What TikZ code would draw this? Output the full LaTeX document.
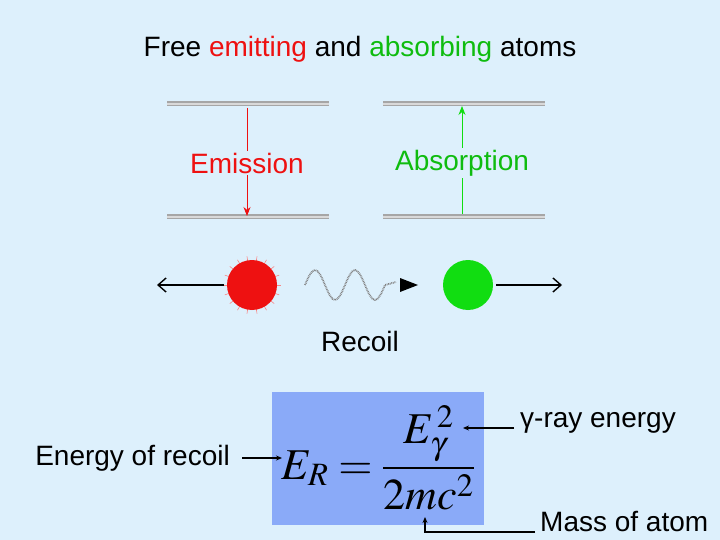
\documentclass[tikz,border=0pt]{standalone}
\usepackage{mathptmx}
\usepackage{fontspec}
\setmainfont{Liberation Sans}
\usetikzlibrary{arrows.meta}
\definecolor{bg}{HTML}{DDF0FC}
\definecolor{boxc}{HTML}{8AAAF8}
\definecolor{myred}{HTML}{EE1111}
\definecolor{mygreen}{HTML}{11DD11}
\tikzset{x=1pt,y=-1pt,
 lbl/.style={font=\fontsize{28}{32}\selectfont,inner sep=0},
 lvl/.style={line width=5pt,gray!70,postaction={draw,line width=1.5pt,gray!30}},
 blk/.style={line width=1.4pt,-{Straight Barb[length=8pt,width=14pt]}},
 pt/.style={line width=1.3pt,-{Stealth[length=6pt,width=5pt]}}}
\begin{document}
\begin{tikzpicture}
\fill[bg] (0,0) rectangle (720,540);
\useasboundingbox (0,0) rectangle (720,540);
\node[lbl] (title) at (360,49) {Free \textcolor{myred}{emitting} and \textcolor{mygreen!85!black}{absorbing} atoms};
\draw[lvl] (167,104) -- (329,104);
\draw[lvl] (167,217) -- (329,217);
\draw[lvl] (383,104) -- (545,104);
\draw[lvl] (383,217) -- (545,217);
\coordinate (et) at (247,108); \coordinate (eb) at (247,216);
\coordinate (at) at (462,106); \coordinate (ab) at (462,214);
\draw[myred,line width=0.8pt,-{Stealth[length=9pt,width=7pt]}] (et) -- (eb);
\draw[mygreen,line width=0.8pt,-{Stealth[length=9pt,width=7pt]}] (ab) -- (at);
\node[lbl,fill=bg,text=myred,inner sep=2pt] (em) at (247,163) {Emission};
\node[lbl,fill=bg,text=mygreen!85!black,inner sep=2pt] (ab2) at (462,163) {Absorption};
% atoms
\foreach \a in {0,20,...,340} \draw[myred!50,line width=0.6pt] (252,285) ++(\a:24) -- ++(\a:5);
\node[circle,fill=myred,minimum size=50pt,inner sep=0] (ra) at (252,285) {};
\node[circle,fill=mygreen,minimum size=50pt,inner sep=0] (ga) at (468,285) {};
\coordinate (lt) at (157,285); \coordinate (rt) at (562,285);
\draw[blk] (ra.west) ++(-3,0) -- (lt);
\draw[blk] (ga.east) ++(3,0) -- (rt);
\draw[gray,line width=1.8pt,dash pattern=on 0.8pt off 0.8pt] (305,285) sin (315,270) cos (325,285) sin (335,300) cos (345,285) sin (355,270) cos (365,285) sin (375,300) cos (385,285) -- (396,282);
\coordinate (tri) at (400,285);
\fill (400,278) -- (418,285) -- (400,292) -- cycle;
\node[lbl] (rec) at (360,341) {Recoil};
% formula
\node[fill=boxc,minimum width=212pt,minimum height=133pt,inner sep=0] (box) at (378,458.5) {};
\node[inner sep=0] (eq) at (378,458) {\fontsize{44}{48}\selectfont $\displaystyle E_R=\frac{E_\gamma^{\,2}}{2mc^2}$};
\node[lbl,anchor=west] (gam) at (520,423) {γ-ray energy};
\coordinate (g1) at (463,428);
\draw[pt] (gam.west) ++(-6,5) -- (g1);
\node[lbl,anchor=east] (rec2) at (230,458) {Energy of recoil};
\coordinate (r1) at (282,458);
\draw[pt] (rec2.east) ++(12,0) -- (r1);
\node[lbl,anchor=west] (mass) at (540,522) {Mass of atom};
\coordinate (m1) at (425,517);
\draw[line width=1.3pt,-{Stealth[length=6pt,width=5pt]}] (535,532) -- (425,532) -- (m1);
\end{tikzpicture}
\end{document}
